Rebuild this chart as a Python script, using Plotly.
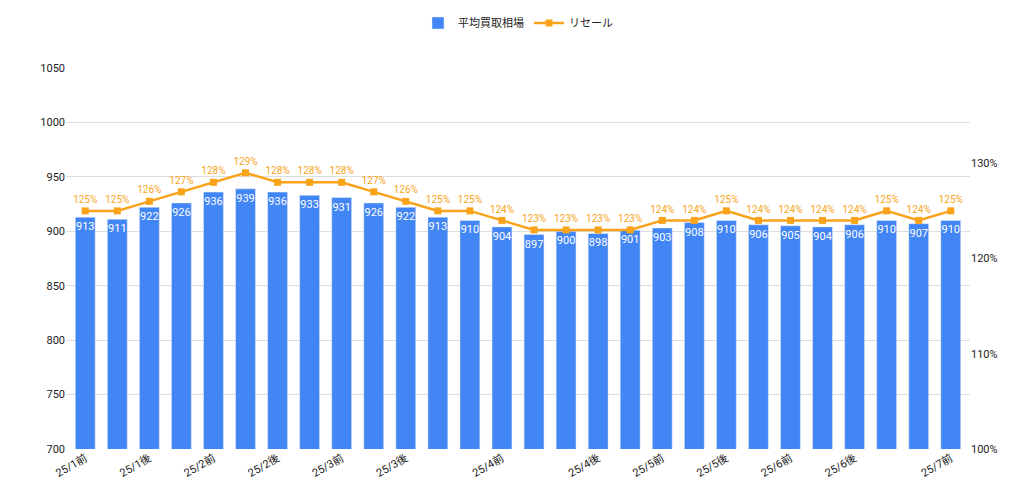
import plotly.graph_objects as go

periods = ["25/1前","25/1中","25/1後","25/1末","25/2前","25/2中","25/2後","25/2末","25/3前","25/3中","25/3後","25/3末","25/4初","25/4前","25/4中a","25/4中b","25/4後","25/4末","25/5前","25/5中","25/5後","25/5末","25/6前","25/6中","25/6後","25/6末","25/7初","25/7前"]
tick_labels = {0:"25/1前",2:"25/1後",4:"25/2前",6:"25/2後",8:"25/3前",10:"25/3後",13:"25/4前",16:"25/4後",18:"25/5前",20:"25/5後",22:"25/6前",24:"25/6後",27:"25/7前"}
avg_price = [913,911,922,926,936,939,936,933,931,926,922,913,910,904,897,900,898,901,903,908,910,906,905,904,906,910,907,910]
resale = [125,125,126,127,128,129,128,128,128,127,126,125,125,124,123,123,123,123,124,124,125,124,124,124,124,125,124,125]
right_ticks = [100, 110, 120, 130]

x = list(range(len(periods)))
fig = go.Figure()
fig.add_bar(x=x, y=avg_price, name="平均買取相場", marker_color="#4285f4",
            text=[str(v) for v in avg_price], textposition="inside", insidetextanchor="end",
            textangle=0, textfont=dict(color="white", size=11), width=0.62)
fig.add_scatter(x=x, y=resale, name="リセール", yaxis="y2", mode="lines+markers+text",
                line=dict(color="#f9a31a", width=2.5), marker=dict(symbol="square", size=7, color="#f9a31a"),
                text=[f"{v}%" for v in resale], textposition="top center",
                textfont=dict(color="#f9a31a", size=10))
fig.update_layout(
    width=1024, height=496, margin=dict(l=58, r=62, t=60, b=55, autoexpand=False),
    plot_bgcolor="white", paper_bgcolor="white",
    font=dict(family="Roboto, Noto Sans CJK JP", color="#222"),
    legend=dict(orientation="h", x=0.5, xanchor="center", y=1.08, yanchor="bottom", font=dict(size=11)),
    xaxis=dict(tickmode="array", tickvals=list(tick_labels.keys()), ticktext=list(tick_labels.values()),
               tickangle=-30, range=[-0.6, 27.6], showgrid=False, tickfont=dict(size=11, color="#222")),
    yaxis=dict(range=[700, 1050], dtick=50, gridcolor="#ddd", zeroline=False,
               tickfont=dict(size=11, color="#222")),
    yaxis2=dict(overlaying="y", side="right", range=[100, 140], tickmode="array", tickvals=right_ticks,
                ticktext=[f"{v}%" for v in right_ticks], showgrid=False, tickfont=dict(size=11, color="#222")),
    uniformtext=dict(minsize=9, mode="show"),
)
fig.write_html("out.html")
